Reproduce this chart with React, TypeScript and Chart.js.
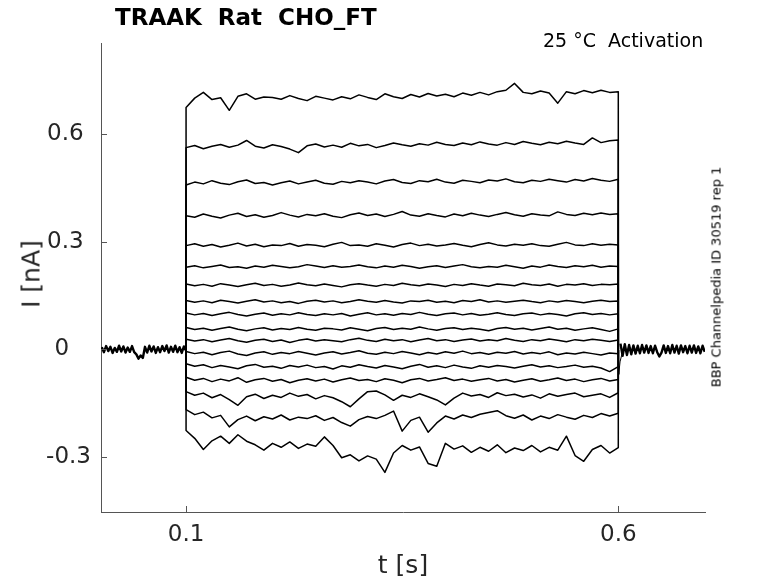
import React, { useEffect, useRef } from 'react';
import { Chart, registerables } from 'chart.js';

Chart.register(...registerables);

// axis ranges and ticks
const X_MIN = 0.0016;
const X_MAX = 0.7003;
const Y_MIN = -0.4533;
const Y_MAX = 0.8536;
const X_TICKS = [0.1, 0.6];
const X_TICK_LABELS = ['0.1', '0.6'];
const Y_TICKS = [-0.3, 0, 0.3, 0.6];
const Y_TICK_LABELS = ['-0.3', '0   ', '0.3 ', '0.6 '];

// holding current before the step [s] / [nA]
const PRE_T = [
  0.0025, 0.005, 0.0075, 0.01, 0.0125, 0.015, 0.0175, 0.02, 0.0225, 0.025,
  0.0275, 0.03, 0.0325, 0.035, 0.0375, 0.04, 0.0425, 0.045, 0.0475, 0.05,
  0.0525, 0.055, 0.0575, 0.06, 0.0625, 0.065, 0.0675, 0.07, 0.0725, 0.075,
  0.0775, 0.08, 0.0825, 0.085, 0.0875, 0.09, 0.0925, 0.095, 0.0975, 0.1,
];
const PRE_I = [
  0.006, -0.008, 0.009, -0.005, 0.007, -0.010, 0.004, -0.007, 0.010, -0.006,
  0.008, -0.009, 0.005, -0.007, 0.009, -0.008, -0.014, -0.026, -0.017, -0.024,
  0.007, -0.009, 0.010, -0.006, 0.008, -0.010, 0.006, -0.008, 0.009, -0.005,
  0.011, -0.009, 0.007, -0.007, 0.010, -0.008, 0.006, -0.010, 0.008, -0.004,
];

// holding current after the step
const POST_T = [
  0.6025, 0.605, 0.6075, 0.61, 0.6125, 0.615, 0.6175, 0.62, 0.6225, 0.625,
  0.6275, 0.63, 0.6325, 0.635, 0.6375, 0.64, 0.6425, 0.645, 0.6475, 0.65,
  0.6525, 0.655, 0.6575, 0.66, 0.6625, 0.665, 0.6675, 0.67, 0.6725, 0.675,
  0.6775, 0.68, 0.6825, 0.685, 0.6875, 0.69, 0.6925, 0.695, 0.6975, 0.7,
];
const POST_I = [
  0.016, -0.018, 0.014, -0.016, 0.012, -0.014, 0.011, -0.012, 0.010, -0.011,
  0.012, -0.009, 0.011, -0.010, 0.009, -0.011, 0.010, -0.008, -0.020, -0.009,
  0.011, -0.010, 0.009, -0.011, 0.012, -0.009, 0.010, -0.012, 0.011, -0.008,
  0.009, -0.011, 0.010, -0.009, 0.011, -0.010, 0.008, -0.011, 0.010, -0.007,
];

// tail current right after the step
const TAIL_T = [0.6, 0.6005, 0.602, 0.604, 0.607];
const TAIL_I = [0, -0.07, -0.035, -0.015, 0];

// sample times during the step
const STEP_T = [
  0.10, 0.11, 0.12, 0.13, 0.14, 0.15, 0.16, 0.17, 0.18, 0.19,
  0.20, 0.21, 0.22, 0.23, 0.24, 0.25, 0.26, 0.27, 0.28, 0.29,
  0.30, 0.31, 0.32, 0.33, 0.34, 0.35, 0.36, 0.37, 0.38, 0.39,
  0.40, 0.41, 0.42, 0.43, 0.44, 0.45, 0.46, 0.47, 0.48, 0.49,
  0.50, 0.51, 0.52, 0.53, 0.54, 0.55, 0.56, 0.57, 0.58, 0.59,
  0.60,
];

// current during the step, one array per voltage step (top to bottom)
const I_01 = [
  0.674, 0.700, 0.716, 0.696, 0.701, 0.666, 0.705, 0.712, 0.697, 0.703,
  0.702, 0.697, 0.707, 0.699, 0.693, 0.705, 0.700, 0.695, 0.704, 0.698,
  0.709, 0.702, 0.696, 0.712, 0.704, 0.699, 0.710, 0.703, 0.713, 0.706,
  0.711, 0.704, 0.714, 0.708, 0.716, 0.709, 0.718, 0.722, 0.741, 0.716,
  0.712, 0.720, 0.714, 0.686, 0.718, 0.712, 0.721, 0.715, 0.722, 0.716,
  0.718,
];
const I_02 = [
  0.562, 0.568, 0.559, 0.566, 0.571, 0.563, 0.569, 0.582, 0.566, 0.561,
  0.570, 0.565, 0.558, 0.548, 0.567, 0.572, 0.564, 0.569, 0.563, 0.574,
  0.567, 0.571, 0.562, 0.568, 0.575, 0.570, 0.566, 0.573, 0.569, 0.577,
  0.571, 0.568, 0.575, 0.570, 0.578, 0.572, 0.569, 0.576, 0.571, 0.579,
  0.574, 0.570, 0.577, 0.573, 0.580, 0.575, 0.571, 0.589, 0.576, 0.581,
  0.583,
];
const I_03 = [
  0.458, 0.466, 0.461, 0.470, 0.463, 0.459, 0.467, 0.472, 0.462, 0.465,
  0.458, 0.464, 0.469, 0.461, 0.466, 0.471, 0.463, 0.460, 0.468, 0.464,
  0.470, 0.466, 0.461, 0.469, 0.473, 0.465, 0.462, 0.470, 0.467, 0.474,
  0.466, 0.463, 0.471, 0.468, 0.464, 0.472, 0.469, 0.475, 0.467, 0.464,
  0.471, 0.468, 0.474, 0.470, 0.466, 0.473, 0.469, 0.476, 0.471, 0.468,
  0.474,
];
const I_04 = [
  0.372, 0.368, 0.377, 0.371, 0.366, 0.374, 0.379, 0.370, 0.375, 0.368,
  0.373, 0.381, 0.374, 0.369, 0.376, 0.372, 0.378, 0.371, 0.367, 0.375,
  0.380, 0.373, 0.377, 0.370, 0.376, 0.384, 0.374, 0.371, 0.378, 0.373,
  0.369, 0.377, 0.372, 0.379, 0.374, 0.370, 0.376, 0.381, 0.375, 0.371,
  0.378, 0.374, 0.372, 0.383, 0.376, 0.373, 0.379, 0.375, 0.380, 0.376,
  0.378,
];
const I_05 = [
  0.289, 0.294, 0.287, 0.292, 0.285, 0.290, 0.296, 0.288, 0.293, 0.286,
  0.291, 0.289, 0.295, 0.287, 0.292, 0.290, 0.286, 0.293, 0.298, 0.289,
  0.291, 0.287, 0.294, 0.290, 0.285, 0.292, 0.296, 0.289, 0.293, 0.288,
  0.291, 0.295, 0.290, 0.286, 0.292, 0.297, 0.291, 0.288, 0.293, 0.290,
  0.294, 0.289, 0.287, 0.293, 0.298, 0.291, 0.289, 0.294, 0.290, 0.293,
  0.291,
];
const I_06 = [
  0.229, 0.233, 0.227, 0.231, 0.235, 0.228, 0.230, 0.226, 0.232, 0.229,
  0.234, 0.231, 0.227, 0.230, 0.236, 0.232, 0.228, 0.233, 0.229, 0.231,
  0.235, 0.230, 0.227, 0.232, 0.229, 0.234, 0.231, 0.226, 0.230, 0.233,
  0.228, 0.232, 0.236, 0.230, 0.227, 0.231, 0.229, 0.234, 0.230, 0.226,
  0.232, 0.229, 0.235, 0.231, 0.228, 0.233, 0.230, 0.234, 0.229, 0.232,
  0.231,
];
const I_07 = [
  0.182, 0.177, 0.181, 0.176, 0.183, 0.179, 0.175, 0.180, 0.184, 0.178,
  0.181, 0.176, 0.179, 0.185, 0.180, 0.177, 0.182, 0.178, 0.174, 0.180,
  0.183, 0.179, 0.176, 0.181, 0.178, 0.184, 0.180, 0.177, 0.182, 0.179,
  0.175, 0.181, 0.178, 0.183, 0.179, 0.176, 0.182, 0.180, 0.177, 0.184,
  0.180, 0.178, 0.182, 0.176, 0.181, 0.179, 0.183, 0.178, 0.181, 0.180,
  0.182,
];
const I_08 = [
  0.136, 0.131, 0.135, 0.130, 0.137, 0.133, 0.129, 0.134, 0.138, 0.132,
  0.135, 0.130, 0.133, 0.128, 0.134, 0.137, 0.132, 0.135, 0.130, 0.133,
  0.138, 0.134, 0.131, 0.136, 0.132, 0.129, 0.135, 0.133, 0.137, 0.131,
  0.134, 0.130, 0.136, 0.133, 0.138, 0.132, 0.135, 0.131, 0.134, 0.137,
  0.133, 0.130, 0.135, 0.132, 0.136, 0.133, 0.130, 0.134, 0.137, 0.133,
  0.135,
];
const I_09 = [
  0.101, 0.096, 0.100, 0.094, 0.099, 0.103, 0.097, 0.093, 0.098, 0.101,
  0.095, 0.099, 0.096, 0.102, 0.097, 0.094, 0.099, 0.096, 0.100, 0.093,
  0.098, 0.102, 0.096, 0.099, 0.095, 0.100, 0.097, 0.103, 0.098, 0.094,
  0.099, 0.101, 0.096, 0.100, 0.095, 0.098, 0.102, 0.097, 0.094, 0.099,
  0.101, 0.096, 0.100, 0.097, 0.093, 0.099, 0.102, 0.097, 0.100, 0.096,
  0.099,
];
const I_10 = [
  0.061, 0.055, 0.059, 0.053, 0.058, 0.062, 0.056, 0.052, 0.057, 0.060,
  0.054, 0.058, 0.055, 0.061, 0.056, 0.053, 0.059, 0.057, 0.054, 0.060,
  0.056, 0.052, 0.058, 0.061, 0.055, 0.059, 0.056, 0.062, 0.057, 0.053,
  0.058, 0.060, 0.055, 0.059, 0.056, 0.052, 0.058, 0.061, 0.056, 0.059,
  0.054, 0.058, 0.062, 0.056, 0.059, 0.053, 0.057, 0.060, 0.055, 0.050,
  0.057,
];
const I_11 = [
  0.028, 0.023, 0.027, 0.021, 0.026, 0.030, 0.024, 0.020, 0.025, 0.028,
  0.022, 0.026, 0.019, 0.025, 0.029, 0.023, 0.027, 0.024, 0.021, 0.027,
  0.031, 0.025, 0.022, 0.028, 0.024, 0.027, 0.021, 0.026, 0.030, 0.024,
  0.027, 0.022, 0.026, 0.029, 0.023, 0.027, 0.024, 0.030, 0.025, 0.022,
  0.027, 0.024, 0.029, 0.025, 0.021, 0.027, 0.024, 0.028, 0.025, 0.022,
  0.026,
];
const I_12 = [
  -0.006, -0.012, -0.008, -0.015, -0.009, -0.005, -0.013, -0.017, -0.010, -0.007,
  -0.014, -0.009, -0.012, -0.006, -0.011, -0.016, -0.010, -0.007, -0.013, -0.009,
  -0.004, -0.011, -0.014, -0.008, -0.012, -0.006, -0.010, -0.015, -0.009, -0.013,
  -0.007, -0.011, -0.005, -0.012, -0.009, -0.014, -0.008, -0.011, -0.006, -0.013,
  -0.009, -0.012, -0.007, -0.015, -0.010, -0.013, -0.008, -0.012, -0.016, -0.010,
  -0.012,
];
const I_13 = [
  -0.040, -0.047, -0.043, -0.051, -0.045, -0.049, -0.054, -0.046, -0.042, -0.050,
  -0.047, -0.053, -0.045, -0.049, -0.044, -0.051, -0.048, -0.055, -0.046, -0.050,
  -0.043, -0.048, -0.052, -0.045, -0.049, -0.054, -0.047, -0.042, -0.050, -0.046,
  -0.051, -0.044, -0.049, -0.053, -0.046, -0.050, -0.045, -0.048, -0.052, -0.047,
  -0.043, -0.049, -0.046, -0.051, -0.048, -0.044, -0.050, -0.047, -0.052, -0.062,
  -0.048,
];
const I_14 = [
  -0.078, -0.086, -0.081, -0.090, -0.083, -0.088, -0.079, -0.092, -0.085, -0.081,
  -0.089, -0.084, -0.093, -0.086, -0.082, -0.088, -0.083, -0.091, -0.085, -0.080,
  -0.087, -0.084, -0.090, -0.082, -0.086, -0.093, -0.085, -0.081, -0.088, -0.084,
  -0.079, -0.087, -0.083, -0.089, -0.085, -0.081, -0.088, -0.084, -0.091, -0.086,
  -0.082, -0.089, -0.085, -0.080, -0.087, -0.083, -0.090, -0.085, -0.081, -0.088,
  -0.084,
];
const I_15 = [
  -0.118, -0.128, -0.122, -0.135, -0.126, -0.140, -0.156, -0.132, -0.125, -0.137,
  -0.128, -0.134, -0.122, -0.131, -0.126, -0.138, -0.129, -0.135, -0.146, -0.160,
  -0.138, -0.118, -0.116, -0.127, -0.142, -0.128, -0.134, -0.124, -0.132, -0.141,
  -0.155, -0.136, -0.122, -0.130, -0.126, -0.134, -0.121, -0.129, -0.125, -0.133,
  -0.127, -0.136, -0.124, -0.131, -0.126, -0.122, -0.132, -0.128, -0.124, -0.134,
  -0.121,
];
const I_16 = [
  -0.168, -0.182, -0.175, -0.191, -0.184, -0.216, -0.196, -0.186, -0.199, -0.188,
  -0.194, -0.183, -0.197, -0.189, -0.193, -0.185, -0.198, -0.190, -0.204, -0.214,
  -0.196, -0.187, -0.193, -0.184, -0.172, -0.228, -0.198, -0.189, -0.231, -0.205,
  -0.186, -0.194, -0.183, -0.190, -0.181, -0.176, -0.171, -0.185, -0.192, -0.183,
  -0.197, -0.186, -0.193, -0.182, -0.189, -0.195, -0.184, -0.190, -0.179, -0.186,
  -0.178,
];
const I_17 = [
  -0.226, -0.248, -0.279, -0.255, -0.242, -0.262, -0.238, -0.256, -0.266, -0.281,
  -0.262, -0.273, -0.258, -0.276, -0.264, -0.270, -0.244, -0.268, -0.302, -0.294,
  -0.311, -0.297, -0.306, -0.343, -0.289, -0.268, -0.281, -0.272, -0.318, -0.326,
  -0.262, -0.278, -0.269, -0.287, -0.273, -0.284, -0.266, -0.288, -0.275, -0.282,
  -0.268, -0.286, -0.273, -0.281, -0.242, -0.296, -0.312, -0.279, -0.268, -0.289,
  -0.274,
];

const STEPS = [I_01, I_02, I_03, I_04, I_05, I_06, I_07, I_08, I_09, I_10, I_11, I_12, I_13, I_14, I_15, I_16, I_17];

const FONT = '"DejaVu Sans", sans-serif';
const AXIS_COLOR = '#555555';
const TEXT_COLOR = '#262626';

// matlab style ticks pointing into the plot
const insideTicks = {
  id: 'insideTicks',
  afterDraw(chart: any) {
    const { ctx, chartArea, scales } = chart;
    ctx.save();
    ctx.strokeStyle = AXIS_COLOR;
    ctx.lineWidth = 1;
    ctx.beginPath();
    X_TICKS.forEach((v) => {
      const px = Math.round(scales.x.getPixelForValue(v)) + 0.5;
      ctx.moveTo(px, chartArea.bottom);
      ctx.lineTo(px, chartArea.bottom - 6);
    });
    Y_TICKS.forEach((v) => {
      const py = Math.round(scales.y.getPixelForValue(v)) + 0.5;
      ctx.moveTo(chartArea.left, py);
      ctx.lineTo(chartArea.left + 6, py);
    });
    ctx.stroke();
    ctx.restore();
  },
};

const toPoints = (ts: number[], vs: number[]) => ts.map((t, i) => ({ x: t, y: vs[i] }));

const App = () => {
  const chartRef = useRef<HTMLCanvasElement | null>(null);
  const chartInstance = useRef<Chart | null>(null);

  useEffect(() => {
    document.body.style.margin = '0';
    if (!chartRef.current) return;
    if (chartInstance.current) chartInstance.current.destroy();

    const line = {
      borderColor: '#000000',
      borderWidth: 1.5,
      borderJoinStyle: 'round',
      pointRadius: 0,
      showLine: true,
      tension: 0,
      fill: false,
    };

    const datasets: any[] = STEPS.map((vals) => ({
      ...line,
      data: [{ x: 0.1, y: 0 }, ...toPoints(STEP_T, vals), { x: 0.6, y: 0 }],
    }));
    // holding segments are 17 overlaid noisy sweeps, so they read as a thick band
    datasets.push({ ...line, borderWidth: 2.4, data: toPoints(PRE_T, PRE_I) });
    datasets.push({ ...line, borderWidth: 2.4, data: toPoints(POST_T, POST_I) });
    datasets.push({ ...line, borderWidth: 1, data: toPoints(TAIL_T, TAIL_I) });

    chartInstance.current = new Chart(chartRef.current, {
      type: 'scatter',
      data: { datasets },
      options: {
        animation: false,
        responsive: false,
        layout: { padding: { top: 43, right: 73, left: 0, bottom: 0 } },
        plugins: {
          legend: { display: false },
          tooltip: { enabled: false },
        },
        scales: {
          x: {
            type: 'linear',
            min: X_MIN,
            max: X_MAX,
            grid: { display: false, drawTicks: false },
            border: { display: true, color: AXIS_COLOR, width: 1 },
            ticks: {
              color: TEXT_COLOR,
              font: { family: FONT, size: 23 },
              padding: 9,
              maxRotation: 0,
              autoSkip: false,
              callback: (_v: any, i: number) => X_TICK_LABELS[i],
            },
            afterBuildTicks: (s: any) => {
              s.ticks = X_TICKS.map((v) => ({ value: v }));
            },
            afterFit: (s: any) => {
              s.height = 71;
            },
          },
          y: {
            type: 'linear',
            min: Y_MIN,
            max: Y_MAX,
            grid: { display: false, drawTicks: false },
            border: { display: true, color: AXIS_COLOR, width: 1 },
            ticks: {
              color: TEXT_COLOR,
              font: { family: FONT, size: 23 },
              padding: 10,
              autoSkip: false,
              callback: (_v: any, i: number) => Y_TICK_LABELS[i],
            },
            afterBuildTicks: (s: any) => {
              s.ticks = Y_TICKS.map((v) => ({ value: v }));
            },
            afterFit: (s: any) => {
              s.width = 101;
            },
          },
        },
      },
      plugins: [insideTicks],
    });

    return () => {
      if (chartInstance.current) {
        chartInstance.current.destroy();
        chartInstance.current = null;
      }
    };
  }, []);

  const text: React.CSSProperties = {
    position: 'absolute',
    fontFamily: FONT,
    color: TEXT_COLOR,
    whiteSpace: 'pre',
    margin: 0,
  };

  return (
    <div style={{ position: 'relative', width: 778, height: 583, background: '#fff', overflow: 'hidden' }}>
      <canvas ref={chartRef} width={778} height={583} style={{ position: 'absolute', left: 0, top: 0 }} />
      <div style={{ ...text, left: 115, top: 6, fontSize: 23, lineHeight: '23px', fontWeight: 'bold', color: '#000' }}>
        TRAAK  Rat  CHO_FT
      </div>
      <div style={{ ...text, left: 543, top: 31, fontSize: 19, lineHeight: '19px', color: '#000' }}>25 °C  Activation</div>
      <div
        style={{
          ...text,
          left: 716,
          top: 277,
          fontSize: 13,
          lineHeight: '13px',
          color: '#000',
          transform: 'translate(-50%, -50%) rotate(-90deg)',
        }}
      >
        BBP Channelpedia ID 30519 rep 1
      </div>
      <div
        style={{
          ...text,
          left: 31,
          top: 274,
          fontSize: 25,
          lineHeight: '25px',
          transform: 'translate(-50%, -50%) rotate(-90deg)',
        }}
      >
        I [nA]
      </div>
      <div style={{ ...text, left: 403, top: 552, fontSize: 25, lineHeight: '25px', transform: 'translateX(-50%)' }}>t [s]</div>
    </div>
  );
};

export default App;
